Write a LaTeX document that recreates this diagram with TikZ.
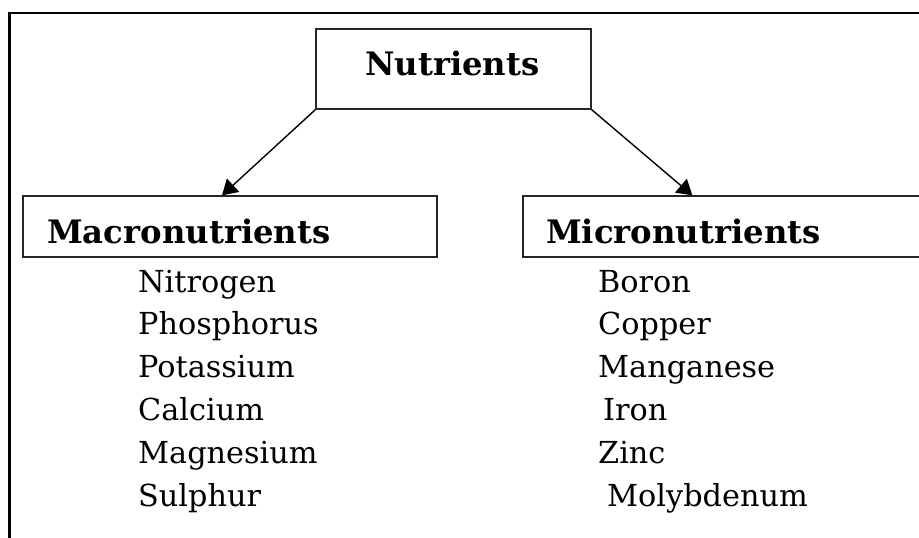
\documentclass[tikz,border=0pt]{standalone}
\usepackage{fontspec}
\setmainfont{DejaVu Serif}
\usetikzlibrary{arrows.meta, positioning}

\begin{document}
\begin{tikzpicture}[
    x=1pt, y=-1pt,
    groupbox/.style={rectangle, draw=black!85, line width=1.3pt, minimum height=61pt, inner sep=0pt},
    headtext/.style={anchor=base west, inner sep=0pt, font=\fontsize{32.3}{36}\selectfont\bfseries},
    item/.style={anchor=base west, inner sep=0pt, font=\fontsize{30.3}{34}\selectfont},
    link/.style={-{Triangle[length=15pt, width=18pt]}, line width=1.4pt}
]
\useasboundingbox (0,0) rectangle (919,538);

% Outer frame (cut at right and bottom)
\draw[line width=2.2pt] (9.5,538) -- (9.5,13) -- (919,13);

% ============= ROOT =============
\node[groupbox, minimum width=275pt, minimum height=80pt] (nutrients) at (453.5,69) {};
\node[headtext] (nutrientstext) at (365,75) {Nutrients};

% ============= GROUPS =============
\node[groupbox, minimum width=414pt] (macro) at (230,226.5) {};
\node[headtext] (macrotext) at (47,243) {Macronutrients};

\node[groupbox, minimum width=407pt] (micro) at (726.5,226.5) {};
\node[headtext] (microtext) at (546,243) {Micronutrients};

% Arrows
\draw[link] (nutrients.south west) -- ([xshift=-8pt]macro.north);
\draw[link] (nutrients.south east) -- ([xshift=170pt]micro.north west);

% Macronutrient list
\foreach \name [count=\i from 0] in {Nitrogen, Phosphorus, Potassium, Calcium, Magnesium, Sulphur} {
    \node[item] (macro\i) at (138,292+\i*42.8) {\name};
}

% Micronutrient list
\foreach \name/\dx [count=\i from 0] in {Boron/0, Copper/0, Manganese/0, Iron/5, Zinc/0, Molybdenum/9} {
    \node[item] (micro\i) at (598+\dx,292+\i*42.8) {\name};
}

\end{tikzpicture}
\end{document}
